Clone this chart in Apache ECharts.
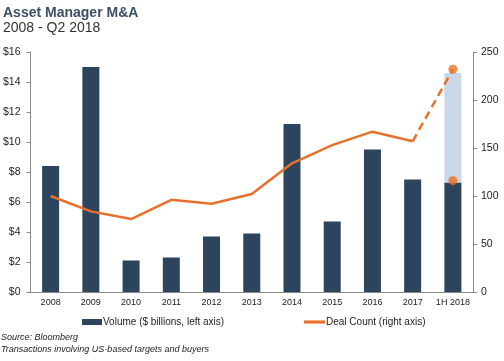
<!DOCTYPE html>
<html>
<head>
<meta charset="utf-8">
<script src="https://cdn.jsdelivr.net/npm/echarts@6/dist/echarts.min.js"></script>
<style>
html,body{margin:0;padding:0;background:#fff;}
#c{width:504px;height:361px;}
</style>
</head>
<body>
<div id="c"></div>
<script>
var categories = ['2008','2009','2010','2011','2012','2013','2014','2015','2016','2017','1H 2018'];
var volume = [8.4, 15.0, 2.1, 2.3, 3.7, 3.9, 11.2, 4.7, 9.5, 7.5, 7.3];
var volumeAnnualizedExtra = [null, null, null, null, null, null, null, null, null, null, 7.3];
var dealCount = [100, 84, 76, 96, 92, 102, 134, 153, 167, 157, 116];
var dealCountAnnualized = 232;
var leftTicks = [0, 2, 4, 6, 8, 10, 12, 14, 16];
var rightTicks = [0, 50, 100, 150, 200, 250];
var notes = ['Source: Bloomberg', 'Transactions involving US-based targets and buyers'];

var n = categories.length;
var solidLine = dealCount.map(function(v, i){ return i < n - 1 ? v : null; });
var dashedLine = dealCount.map(function(v, i){
  if (i === n - 2) return v;
  if (i === n - 1) return dealCountAnnualized;
  return null;
});
var dotsData = [[categories[n-1], dealCount[n-1]], [categories[n-1], dealCountAnnualized]];

var FONT = '"Liberation Sans", Arial, sans-serif';
var chart = echarts.init(document.getElementById('c'), null, {renderer: 'canvas'});
chart.setOption({
  animation: false,
  textStyle: {fontFamily: FONT},
  title: {
    left: -2, top: 1,
    text: 'Asset Manager M&A',
    subtext: '2008 - Q2 2018',
    itemGap: 1,
    textStyle: {fontSize: 14, fontWeight: 'bold', color: '#3A4F66', fontFamily: FONT},
    subtextStyle: {fontSize: 14, color: '#333', fontFamily: FONT}
  },
  legend: [{
    left: 77, top: 312,
    itemWidth: 20, itemHeight: 6, itemGap: 3,
    data: [{name: 'Volume ($ billions, left axis)', icon: 'rect'}],
    textStyle: {fontSize: 10, color: '#222', padding: [0,0,0,-4]}
  }, {
    left: 299, top: 312,
    itemWidth: 21, itemHeight: 6,
    data: [{name: 'Deal Count (right axis)', icon: 'path://M0,0H20V3H0Z'}],
    textStyle: {fontSize: 10, color: '#222', padding: [0,0,0,-4]}
  }],
  graphic: notes.map(function(t, i){
    return {
      type: 'text', left: 1, top: 333 + i * 11.5,
      style: {text: t, font: 'italic 9px ' + FONT, fill: '#222'}
    };
  }),
  grid: {left: 30, right: 31, top: 52, bottom: 69, containLabel: false},
  xAxis: {
    type: 'category',
    data: categories,
    axisTick: {show: false},
    axisLine: {lineStyle: {color: '#8a8a8a', width: 1}},
    axisLabel: {fontSize: 9, color: '#222', margin: 6, interval: 0}
  },
  yAxis: [{
    type: 'value', min: leftTicks[0], max: leftTicks[leftTicks.length-1], interval: 2,
    axisLine: {show: true, lineStyle: {color: '#8a8a8a'}},
    axisTick: {show: true, length: 4, lineStyle: {color: '#8a8a8a'}},
    splitLine: {show: false},
    axisLabel: {fontSize: 10.5, color: '#222', margin: 10, formatter: function(v){ return '$' + v; }}
  }, {
    type: 'value', min: rightTicks[0], max: rightTicks[rightTicks.length-1], interval: 50,
    position: 'right',
    axisLine: {show: true, lineStyle: {color: '#8a8a8a'}},
    axisTick: {show: true, length: 4, lineStyle: {color: '#8a8a8a'}},
    splitLine: {show: false},
    axisLabel: {fontSize: 10.5, color: '#222', margin: 8}
  }],
  series: [{
    name: 'Volume ($ billions, left axis)',
    type: 'bar', stack: 'vol',
    data: volume,
    barWidth: 17,
    itemStyle: {color: '#2D445E'}
  }, {
    name: 'Annualized',
    type: 'bar', stack: 'vol',
    data: volumeAnnualizedExtra,
    barWidth: 17,
    itemStyle: {color: '#C9D7E7'}
  }, {
    name: 'Deal Count (right axis)',
    type: 'line', yAxisIndex: 1,
    data: solidLine,
    showSymbol: false, symbol: 'none',
    lineStyle: {color: '#E8702A', width: 2.5},
    itemStyle: {color: '#E8702A'}
  }, {
    name: 'DealDashed',
    type: 'line', yAxisIndex: 1,
    data: dashedLine,
    showSymbol: false, symbol: 'none',
    lineStyle: {color: '#E8702A', width: 2.5, type: [8, 5]},
    itemStyle: {color: '#E8702A'}
  }, {
    name: 'DealDots',
    type: 'scatter', yAxisIndex: 1,
    data: dotsData,
    symbolSize: 9,
    itemStyle: {color: '#EC6F23'},
    z: 5
  }]
});
</script>
</body>
</html>
